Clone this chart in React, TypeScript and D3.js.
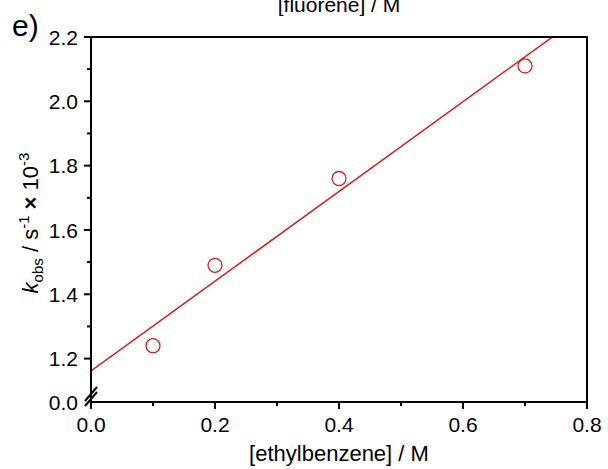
import React from "react";
import * as d3 from "d3";

// Data
const concentrations = [0.1, 0.2, 0.4, 0.7]; // [ethylbenzene] / M
const kobs = [1.24, 1.49, 1.76, 2.11]; // k_obs / s^-1 x 10^-3
const xTicks = [0.0, 0.2, 0.4, 0.6, 0.8];
const xMinorTicks = [0.1, 0.3, 0.5, 0.7];
const yTicks = [1.2, 1.4, 1.6, 1.8, 2.0, 2.2];
const yMinorTicks = [1.3, 1.5, 1.7, 1.9, 2.1];
const yBreakLabel = "0.0";

const W = 608;
const H = 469;
const L = 91;
const R = 587;
const T = 37;
const B = 402;
const RED = "#dd1c1c";
const FONT = "'Liberation Sans', Arial, sans-serif";

export default function App() {
  const x = d3.scaleLinear().domain([0, 0.8]).range([L, R]);
  const y = d3.scaleLinear().domain([1.065, 2.2]).range([B, T]);

  // least squares fit
  const mx = d3.mean(concentrations)!;
  const my = d3.mean(kobs)!;
  const sxy = d3.sum(concentrations.map((c, i) => (c - mx) * (kobs[i] - my)));
  const sxx = d3.sum(concentrations.map((c) => (c - mx) ** 2));
  const slope = sxy / sxx;
  const intercept = my - slope * mx;
  const fitX = [0, 0.8];
  const line = d3
    .line<number>()
    .x((d) => x(d))
    .y((d) => y(intercept + slope * d));

  return (
    <svg
      width={W}
      height={H}
      style={{ position: "absolute", left: 0, top: 0, background: "#fff" }}
      fontFamily={FONT}
    >
      <defs>
        <clipPath id="plot">
          <rect x={L} y={T} width={R - L} height={B - T} />
        </clipPath>
      </defs>
      <rect width={W} height={H} fill="#fff" />

      {/* top label (cut off, as in the reference) */}
      <text x={(L + R) / 2} y={12} textAnchor="middle" fontSize={21}>
        [fluorene] / M
      </text>
      <text x={12} y={36} fontSize={30}>
        e)
      </text>

      {/* fit line */}
      <path
        d={line(fitX) || ""}
        stroke={RED}
        strokeWidth={1.5}
        fill="none"
        clipPath="url(#plot)"
      />
      {concentrations.map((c, i) => (
        <circle
          key={i}
          cx={x(c)}
          cy={y(kobs[i])}
          r={7}
          fill="none"
          stroke={RED}
          strokeWidth={1.3}
        />
      ))}

      {/* frame */}
      <rect x={L} y={T} width={R - L} height={B - T} fill="none" stroke="#000" strokeWidth={2} />

      {/* x ticks */}
      {xTicks.map((t) => (
        <g key={"x" + t}>
          <line x1={x(t)} x2={x(t)} y1={B} y2={B + 7} stroke="#000" strokeWidth={2} />
          <text x={x(t)} y={B + 30} textAnchor="middle" fontSize={21}>
            {t.toFixed(1)}
          </text>
        </g>
      ))}
      {xMinorTicks.map((t) => (
        <line key={"xm" + t} x1={x(t)} x2={x(t)} y1={B} y2={B + 4} stroke="#000" strokeWidth={2} />
      ))}

      {/* y ticks */}
      {yTicks.map((t) => (
        <g key={"y" + t}>
          <line x1={L - 7} x2={L} y1={y(t)} y2={y(t)} stroke="#000" strokeWidth={2} />
          <text x={L - 13} y={y(t)} dy="0.36em" textAnchor="end" fontSize={21}>
            {t.toFixed(1)}
          </text>
        </g>
      ))}
      {yMinorTicks.map((t) => (
        <line key={"ym" + t} x1={L - 4} x2={L} y1={y(t)} y2={y(t)} stroke="#000" strokeWidth={2} />
      ))}
      <text x={L - 13} y={B} dy="0.36em" textAnchor="end" fontSize={21}>
        {yBreakLabel}
      </text>

      {/* axis break marks */}
      {[394, 399].map((cy) => (
        <line key={cy} x1={L - 6} y1={cy + 7} x2={L + 6} y2={cy - 7} stroke="#000" strokeWidth={2} />
      ))}

      {/* axis titles */}
      <text x={(L + R) / 2} y={461} textAnchor="middle" fontSize={22}>
        [ethylbenzene] / M
      </text>
      <text transform={`translate(38, ${223}) rotate(-90)`} textAnchor="middle" fontSize={22}>
        <tspan fontStyle="italic">k</tspan>
        <tspan fontSize={15} dy={5}>obs</tspan>
        <tspan dy={-5}> / s</tspan>
        <tspan fontSize={15} dy={-9}>-1</tspan>
        <tspan dy={9}> </tspan>
        <tspan fontWeight="bold">×</tspan>
        <tspan> 10</tspan>
        <tspan fontSize={15} dy={-9}>-3</tspan>
      </text>
    </svg>
  );
}
